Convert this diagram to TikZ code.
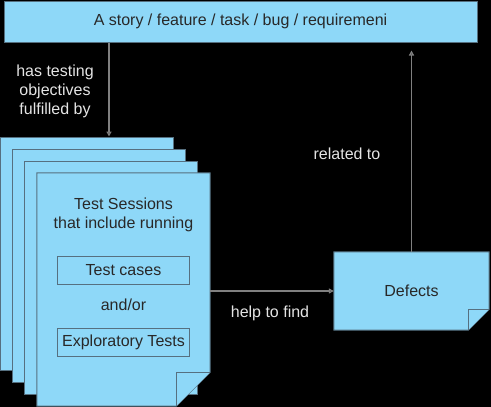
\documentclass[tikz,border=0pt]{standalone}
\usepackage{fontspec}
\setmainfont{Liberation Sans}
\usetikzlibrary{arrows.meta}
\definecolor{paleblue}{RGB}{142,216,248}
\definecolor{edgegray}{RGB}{86,112,128}
\definecolor{inkgray}{RGB}{40,40,40}
\definecolor{linegray}{RGB}{128,128,128}
\definecolor{labelgray}{RGB}{228,228,228}
\tikzset{
  sheet/.style={draw=edgegray, fill=paleblue, line width=1pt},
  frame/.style={minimum width=173pt, minimum height=233pt, inner sep=0pt},
  inbox/.style={draw=edgegray, fill=paleblue, line width=1pt, minimum width=132pt, minimum height=28pt, inner sep=0pt, text=inkgray, font=\fontsize{16}{19}\selectfont},
  link/.style={draw=linegray, line width=1.2pt, -{Triangle[open,length=5pt,width=5pt]}},
  tag/.style={text=labelgray, font=\fontsize{16}{19}\selectfont, align=center},
}
\begin{document}
\begin{tikzpicture}[x=1pt,y=-1pt]
\fill[black] (0,0) rectangle (491,407);
\useasboundingbox (0,0) rectangle (491,407);
\node[inbox, minimum width=473pt, minimum height=41pt] (story) at (240.5,21.5) {A story / feature / task / bug / requiremeni};
% stack of sessions
\foreach \k/\d in {1/0,2/12,3/24}
  \node[frame, sheet] (sheet\k) at (87+\d,253.5+\d) {};
\node[frame] (session) at (123.5,289.5) {};
\draw[sheet] (session.north west) -- (session.north east) -- ([yshift=34pt]session.south east) -- ([xshift=-34pt]session.south east) -- (session.south west) -- cycle;
\draw[sheet] ([yshift=34pt]session.south east) -- ([xshift=-34pt,yshift=34pt]session.south east) -- ([xshift=-34pt]session.south east);
\node[tag, text=inkgray] (title) at (123.5,214.5) {Test Sessions\\that include running};
\node[inbox] (cases) at (123.5,270) {Test cases};
\node[tag, text=inkgray] (andor) at (123.5,305) {and/or};
\node[inbox] (explore) at (123.5,342.5) {Exploratory Tests};
% defects note
\node[frame, minimum width=155pt, minimum height=78pt] (defects) at (411.5,291) {};
\draw[sheet] (defects.north west) -- (defects.north east) -- ([yshift=21pt]defects.south east) -- ([xshift=-21pt]defects.south east) -- (defects.south west) -- cycle;
\draw[sheet] ([yshift=21pt]defects.south east) -- ([xshift=-21pt,yshift=21pt]defects.south east) -- ([xshift=-21pt]defects.south east);
\node[tag, text=inkgray] (deftext) at (defects) {Defects};
% links
\draw[link] (story.south -| 109,0) -- (sheet1.north -| 109,0);
\draw[link] (defects.west -| session.east) -- (defects.west);
\draw[link, shorten >=8pt] (defects.north) -- (defects.north |- story.south);
\node[tag] (objlabel) at (55,91) {has testing\\objectives\\fulfilled by};
\node[tag] (rellabel) at (347,154) {related to};
\node[tag] (findlabel) at (270,313) {help to find};
\end{tikzpicture}
\end{document}
